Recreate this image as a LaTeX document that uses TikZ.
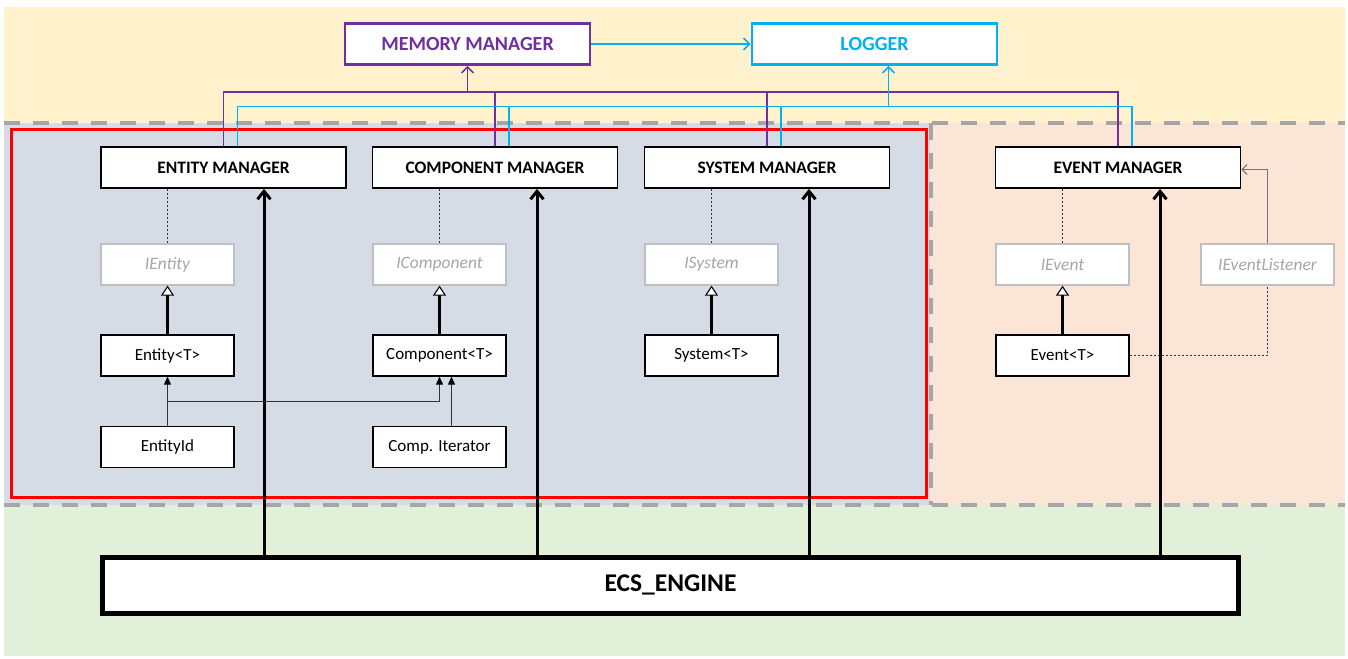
\documentclass[tikz,border=0pt]{standalone}
\usepackage{fontspec}
\setmainfont{Carlito}
\usetikzlibrary{arrows.meta,calc}
\definecolor{bgyellow}{HTML}{FFF2CC}
\definecolor{bgblue}{HTML}{D6DCE5}
\definecolor{bgpeach}{HTML}{FBE5D6}
\definecolor{bggreen}{HTML}{E2F0D9}
\definecolor{sepgray}{HTML}{A6A6A6}
\definecolor{mempurple}{HTML}{7030A0}
\definecolor{logcyan}{HTML}{00B0F0}
\definecolor{ifgray}{HTML}{BFBFBF}
\definecolor{iftext}{HTML}{A6A6A6}

\begin{document}
\begin{tikzpicture}[x=1pt,y=-1pt]
\tikzstyle{every node}+=[inner sep=0pt]
\tikzstyle{manager}=[draw=black,line width=1.8pt,fill=white,minimum width=245pt,minimum height=41pt,font=\fontsize{17.5}{20}\selectfont\bfseries]
\tikzstyle{service}=[line width=2.6pt,fill=white,minimum width=245pt,minimum height=41pt,font=\fontsize{20}{24}\selectfont\bfseries]
\tikzstyle{iface}=[draw=ifgray,line width=1.2pt,fill=white,text=iftext,minimum width=133pt,minimum height=41pt,font=\fontsize{17.5}{20}\selectfont\itshape]
\tikzstyle{cls}=[draw=black,line width=1.3pt,fill=white,minimum width=133pt,minimum height=41pt,font=\fontsize{17}{20}\selectfont]
\tikzstyle{sep}=[sepgray,line width=4pt,dash pattern=on 16pt off 13pt]
\tikzstyle{engine}=[line width=3pt,-{Straight Barb[length=8pt,width=13pt]}]
\tikzstyle{inherit}=[line width=2.6pt,-{Triangle[fill=white,line width=1.1pt,length=10pt,width=13pt]}]
\tikzstyle{assoc}=[black!80,line width=1pt,-{Triangle[length=8pt,width=7pt,color=black]}]
\tikzstyle{owner}=[black!80,line width=0.8pt,dash pattern=on 2pt off 2pt]
\tikzstyle{memline}=[mempurple,line width=1.6pt]
\tikzstyle{logline}=[logcyan,line width=1.6pt]
\tikzstyle{bus}=[-{Straight Barb[length=6pt,width=12pt]}]
\useasboundingbox (0,0) rectangle (1348,658);

\fill[bgyellow] (4,7) rectangle (1345,123);
\fill[bgblue] (4,123) rectangle (930,505);
\fill[bgpeach] (930,123) rectangle (1345,505);
\fill[bggreen] (4,505) rectangle (1345,656);
\draw[sep] (4,123.5) -- (1345,123.5);
\draw[sep] (4,505) -- (1345,505);
\draw[sep] (931,123.5) -- (931,505);
\draw[red,line width=3pt] (11.5,129.5) rectangle (926.5,497.5);

\node[service,draw=mempurple,text=mempurple] (mm) at (467.5,44) {MEMORY MANAGER};
\node[service,draw=logcyan,text=logcyan] (log) at (874.5,44) {LOGGER};

\node[manager] (em) at (223.5,167.5) {ENTITY MANAGER};
\node[manager] (cm) at (495,167.5) {COMPONENT MANAGER};
\node[manager] (sm) at (767,167.5) {SYSTEM MANAGER};
\node[manager] (evm) at (1118,167.5) {EVENT MANAGER};

\node[iface] (ient) at (167.5,264.5) {IEntity};
\node[iface] (icomp) at (439.5,264.5) {IComponent};
\node[iface] (isys) at (711.5,264.5) {ISystem};
\node[iface] (iev) at (1062.5,264.5) {IEvent};
\node[iface] (ilis) at (1267.5,264.5) {IEventListener};

\node[cls] (ent) at (167.5,355.5) {Entity<T>};
\node[cls] (comp) at (439.5,355.5) {Component<T>};
\node[cls] (sys) at (711.5,355.5) {System<T>};
\node[cls] (evt) at (1062.5,355.5) {Event<T>};

\node[cls] (eid) at (167.5,447) {EntityId};
\node[cls] (citer) at (439.5,447) {Comp. Iterator};

\node[draw=black,line width=5pt,fill=white,minimum width=1136pt,minimum height=56pt,font=\fontsize{25.5}{30}\selectfont\bfseries] (ecs) at (670.5,585) {ECS\_ENGINE};

% engine -> managers
\coordinate (emin) at ([xshift=40.5pt]em.south);
\coordinate (cmin) at ([xshift=42pt]cm.south);
\coordinate (smin) at ([xshift=42pt]sm.south);
\coordinate (evmin) at ([xshift=42pt]evm.south);
\draw[engine] (ecs.north -| emin) -- (emin);
\draw[engine] (ecs.north -| cmin) -- (cmin);
\draw[engine] (ecs.north -| smin) -- (smin);
\draw[engine] (ecs.north -| evmin) -- (evmin);

% managers own interfaces
\draw[owner] (em.south -| ient.north) -- (ient.north);
\draw[owner] (cm.south -| icomp.north) -- (icomp.north);
\draw[owner] (sm.south -| isys.north) -- (isys.north);
\draw[owner] (evm.south -| iev.north) -- (iev.north);

\draw[inherit] (ent) -- (ient);
\draw[inherit] (comp) -- (icomp);
\draw[inherit] (sys) -- (isys);
\draw[inherit] (evt) -- (iev);

\coordinate (br) at ($(eid.north)!0.5!(ent.south)$);
\draw[assoc] (eid.north) -- (ent.south);
\draw[assoc] (br) -| (comp.south);
\draw[assoc] ([xshift=12pt]citer.north) -- ([xshift=12pt]comp.south);

\draw[owner] (evt.east) -| (ilis.south);
\draw[black!55,line width=1pt,-{Straight Barb[length=5pt,width=10pt]}] (ilis.north) |- ([yshift=-2pt]evm.east);

% memory bus
\coordinate (pbus) at (0,92);
\draw[memline] (em.north) |- (evm.north |- pbus) -- (evm.north);
\draw[memline] (cm.north) -- (cm.north |- pbus);
\draw[memline] (sm.north) -- (sm.north |- pbus);
\draw[memline,bus] (mm.south |- pbus) -- (mm.south);

% logger bus
\coordinate (cbus) at (0,106.5);
\draw[logline] ([xshift=14pt]em.north) |- ([xshift=14pt]evm.north |- cbus) -- ([xshift=14pt]evm.north);
\draw[logline] ([xshift=14pt]cm.north) -- ([xshift=14pt]cm.north |- cbus);
\draw[logline] ([xshift=14pt]sm.north) -- ([xshift=14pt]sm.north |- cbus);
\draw[logline,bus] ([xshift=14pt]log.south |- cbus) -- ([xshift=14pt]log.south);
\draw[logline,bus] (mm.east) -- (log.west);
\end{tikzpicture}
\end{document}
